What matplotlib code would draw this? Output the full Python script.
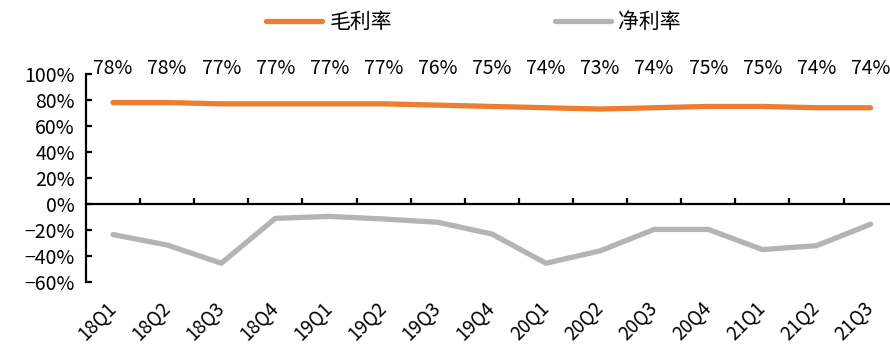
import numpy as np
import matplotlib
matplotlib.use("Agg")
import matplotlib.pyplot as plt
from matplotlib.ticker import FuncFormatter, FixedLocator
from matplotlib.transforms import blended_transform_factory, offset_copy

plt.rcParams['font.family'] = ['Noto Sans CJK SC', 'DejaVu Sans']

quarters = ['18Q1', '18Q2', '18Q3', '18Q4', '19Q1', '19Q2', '19Q3', '19Q4',
            '20Q1', '20Q2', '20Q3', '20Q4', '21Q1', '21Q2', '21Q3']
gross_margin = [78, 78, 77, 77, 77, 77, 76, 75, 74, 73, 74, 75, 75, 74, 74]
net_margin = [-23.5, -31.5, -45.5, -11, -9.5, -11.5, -14, -23,
              -45.5, -36, -19.5, -19.5, -35, -32, -15.5]
y_ticks = [-60, -40, -20, 0, 20, 40, 60, 80, 100]

orange = '#ED7D31'
gray = '#B4B4B4'

fig = plt.figure(figsize=(8.9, 3.47), dpi=100)
ax = fig.add_axes([0.0966, 0.187, 0.912, 0.6])

x = np.arange(len(quarters))
ax.plot(x, gross_margin, color=orange, lw=3.8, solid_capstyle='round',
        label='毛利率', zorder=3)
ax.plot(x, net_margin, color=gray, lw=3.8, solid_capstyle='round',
        label='净利率', zorder=3)

ax.set_xlim(-0.5, len(quarters) - 0.5)
ax.set_ylim(-60, 100)

# value labels for gross margin, in a row above the plot area
for xi, v in zip(x, gross_margin):
    ax.text(xi, 104.5, f'{v}%', ha='center', va='center', fontsize=14,
            color='black', clip_on=False)

# spines
for s in ['top', 'right']:
    ax.spines[s].set_visible(False)
ax.spines['left'].set_linewidth(1.6)
ax.spines['bottom'].set_linewidth(1.6)
ax.spines['bottom'].set_position(('data', 0))

ax.yaxis.set_major_locator(FixedLocator(y_ticks))
ax.yaxis.set_major_formatter(FuncFormatter(lambda v, p: f'{v:.0f}%'.replace('-', '−')))
ax.tick_params(axis='y', direction='in', length=4, width=1.6, labelsize=14, pad=8)

ax.set_xticks(x)
ax.set_xticklabels([])
ax.tick_params(axis='x', which='major', length=0)
ax.set_xticks(np.arange(0.5, len(quarters), 1), minor=True)
ax.tick_params(axis='x', which='minor', direction='in', length=4, width=1.6)

# rotated category labels along the bottom, ending under each category
trans = offset_copy(blended_transform_factory(ax.transData, ax.transAxes),
                    fig=fig, x=0, y=0, units='dots')
for xi, q in zip(x, quarters):
    ax.text(xi, -0.11, q, rotation=45, ha='right', va='center',
            rotation_mode='anchor', fontsize=13.5, transform=trans,
            clip_on=False)

fig.legend(loc='center', bbox_to_anchor=(0.532, 0.937), ncol=2, frameon=False,
           fontsize=15, handlelength=2.7, handletextpad=0.35, columnspacing=7.8)

fig.savefig('out.png', dpi=100)
